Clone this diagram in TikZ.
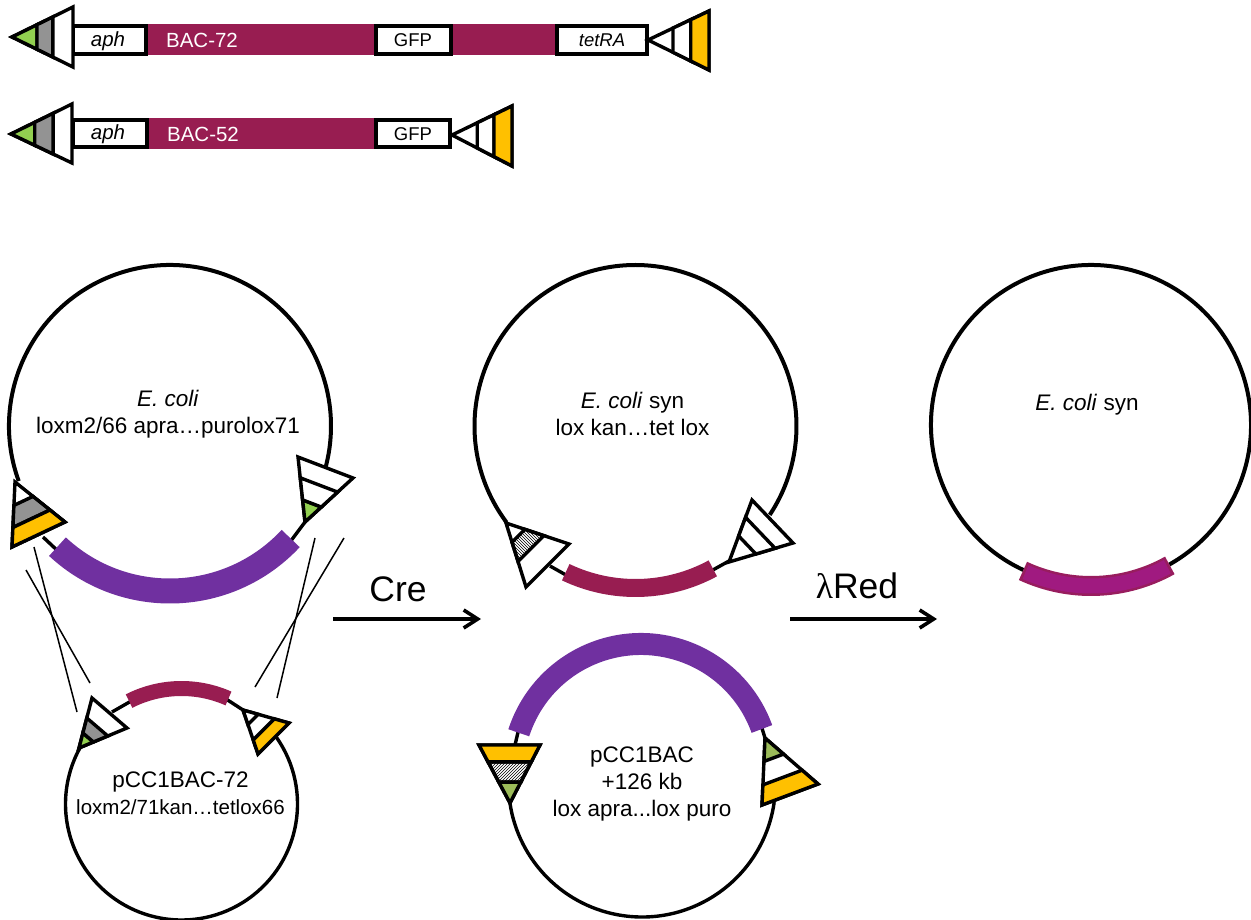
\documentclass[tikz,border=0pt]{standalone}
\usepackage{fontspec}
\setmainfont{Liberation Sans}
\newfontfamily\lambdafont{Liberation Serif}
\usetikzlibrary{arrows.meta,calc,patterns}
\definecolor{baccol}{HTML}{981D51}
\definecolor{apracol}{HTML}{7030A0}
\definecolor{synrim}{HTML}{981D5E}
\definecolor{syncol}{HTML}{A01A80}
\definecolor{limecol}{HTML}{92D050}
\definecolor{olivecol}{HTML}{9BBB59}
\definecolor{ambercol}{HTML}{FFC000}
\tikzset{
  lox/.style={draw=black,line width=3.4pt,line join=miter},
  ring/.style={draw=black,line width=4pt},
  smallring/.style={draw=black,line width=3.4pt},
  genebox/.style={draw=black,fill=white,line width=3.2pt},
  swap/.style={draw=black,line width=1.5pt},
  step arrow/.style={draw=black,line width=3.6pt,-{Straight Barb[length=14pt,width=18pt]}},
  label/.style={inner sep=0pt,align=center,font=\fontsize{22.5}{27}\selectfont},
}
\newcommand{\loxtri}[3]{
  \coordinate (la) at (#1);
  \coordinate (lb) at (#2);
  \coordinate (lc) at (#3);
  \draw[lox,fill=white] (la) -- (lb) -- (lc) -- cycle;
}
\newcommand{\loxband}[3]{
  \draw[lox,#1] ($(la)!#2!(lb)$) -- ($(la)!#3!(lb)$) -- ($(la)!#3!(lc)$) -- ($(la)!#2!(lc)$) -- cycle;
}
\begin{document}
\begin{tikzpicture}[x=1pt,y=1pt,yscale=-1]
  \useasboundingbox (0,0) rectangle (1251,920);

  % BAC-72 cassette
  \fill[baccol] (146,24) rectangle (557,55);
  \draw[genebox] (73,26) rectangle (146,54);
  \draw[genebox] (376,26) rectangle (451,54);
  \draw[genebox] (557,26) rectangle (647,54);
  \node[label,font=\fontsize{20.5}{24}\selectfont\itshape] (apha) at (108,41) {aph};
  \node[label,font=\fontsize{20.5}{24}\selectfont,text=white] (baca) at (202,40) {BAC-72};
  \node[label,font=\fontsize{18.5}{22}\selectfont] (gfpa) at (413,40) {GFP};
  \node[label,font=\fontsize{18.5}{22}\selectfont\itshape] (tet) at (602,40) {tetRA};
  \loxtri{12,37}{73,7}{73,67}
  \loxband{fill=limecol}{0}{.41}
  \loxband{fill=gray!85}{.41}{.67}
  \loxtri{648,40}{709,11}{709,70}
  \loxband{fill=white}{.41}{.70}
  \loxband{fill=ambercol}{.70}{1}

  % BAC-52 cassette
  \fill[baccol] (147,118) rectangle (376,149);
  \draw[genebox] (73,120) rectangle (147,147);
  \draw[genebox] (376,120) rectangle (450,147);
  \node[label,font=\fontsize{20.5}{24}\selectfont\itshape] (aphb) at (108,134) {aph};
  \node[label,font=\fontsize{20.5}{24}\selectfont,text=white] (bacb) at (203,134) {BAC-52};
  \node[label,font=\fontsize{18.5}{22}\selectfont] (gfpb) at (413,134) {GFP};
  \loxtri{11,134}{72,104}{72,163}
  \loxband{fill=limecol}{0}{.39}
  \loxband{fill=gray!85}{.39}{.69}
  \loxtri{452,135}{512,106}{512,166}
  \loxband{fill=white}{.42}{.70}
  \loxband{fill=ambercol}{.70}{1}

  % E. coli, left
  \draw[ring] (170,426) ++(160:161) arc[start angle=160,end angle=375,radius=161];
  \draw[smallring] (43,537) -- (60,553);
  \draw[smallring] (305,522) -- (290,542);
  \draw[apracol,line width=25pt] (170,426) ++(43:165) arc[start angle=43,end angle=133,radius=165];
  \loxtri{15,482}{65,522}{12,547}
  \loxband{fill=gray!85}{.36}{.70}
  \loxband{fill=ambercol}{.70}{1}
  \loxtri{305,522}{298,457}{353,478}
  \loxband{fill=limecol}{0}{.34}
  \loxband{fill=white}{.34}{.68}
  \node[label] (ecolia) at (168,414) {\textit{E. coli}\\loxm2/66 apra…purolox71};

  % crossover lines
  \draw[swap] (34,547) -- (77,712);
  \draw[swap] (26,570) -- (90,683);
  \draw[swap] (315,538) -- (277,698);
  \draw[swap] (344,538) -- (255,687);

  % pCC1BAC-72
  \draw[smallring] (181.5,804) ++(-35:116) arc[start angle=-35,end angle=209,radius=116];
  \draw[smallring] (112,712) -- (133,700);
  \draw[smallring] (243,710) -- (223,697);
  \draw[baccol,line width=15pt] (181.5,804) ++(243:115.5) arc[start angle=243,end angle=294,radius=115.5];
  \loxtri{79,748}{92,698}{127,728}
  \loxband{fill=limecol}{0}{.30}
  \loxband{fill=gray!85}{.30}{.60}
  \loxtri{243,710}{289,723}{258,754}
  \loxband{fill=white}{0}{.33}
  \loxband{fill=ambercol}{.68}{1}
  \node[label] (pcca) at (180.5,793.5) {\fontsize{22.5}{27}\selectfont pCC1BAC-72\\\fontsize{20.5}{27}\selectfont loxm2/71kan…tetlox66};

  % Cre step
  \coordinate (crea) at (333,619);
  \coordinate (creb) at (481,619);
  \draw[step arrow] (crea) -- (creb);
  \node[label,font=\fontsize{35.5}{40}\selectfont] (cre) at (398,589) {Cre};

  % E. coli syn, middle
  \draw[ring] (635.5,426) ++(143.2:161) arc[start angle=143.2,end angle=393.5,radius=161];
  \draw[smallring] (550,566) -- (566,575);
  \draw[smallring] (729,561) -- (711,571);
  \draw[baccol,line width=18pt] (635.5,426) ++(61.5:162) arc[start angle=61.5,end angle=115.5,radius=162];
  \loxtri{506,523}{569,544}{526,587}
  \loxband{pattern=north west lines}{.30}{.60}
  \loxtri{729,562}{752,500}{793,543}
  \loxband{fill=white}{.42}{.72}
  \node[label] (ecolib) at (632.5,414) {\textit{E. coli} syn\\lox kan…tet lox};

  % pCC1BAC, middle
  \draw[smallring] (642,783.5) ++(8:133.5) arc[start angle=8,end angle=171.6,radius=133.5];
  \draw[smallring] (519,728) -- (515,745);
  \draw[smallring] (761,725) -- (765,738);
  \draw[apracol,line width=22pt] (641,772.5) ++(198:128.5) arc[start angle=198,end angle=340.2,radius=128.5];
  \loxtri{510,803}{479,745}{540,745}
  \loxband{fill=olivecol}{0}{.36}
  \loxband{pattern=north east lines}{.36}{.71}
  \loxband{fill=ambercol}{.71}{1}
  \loxtri{765,738}{818,784}{762,805}
  \loxband{fill=olivecol}{0}{.35}
  \loxband{fill=ambercol}{.70}{1}
  \node[label] (pccb) at (642,784) {pCC1BAC\\+126 kb\\lox apra...lox puro};

  % lambda Red step
  \coordinate (reda) at (790,619);
  \coordinate (redb) at (937,619);
  \draw[step arrow] (reda) -- (redb);
  \node[label,font=\fontsize{35.5}{40}\selectfont] (red) at (857,586) {{\lambdafont λ}Red};

  % E. coli syn, right
  \draw[ring] (1091,425) ++(115:160) arc[start angle=115,end angle=420.7,radius=160];
  \draw[synrim,line width=20pt] (1091,425) ++(60.7:161) arc[start angle=60.7,end angle=115,radius=161];
  \draw[syncol,line width=15pt] (1091,425) ++(61.7:161) arc[start angle=61.7,end angle=114,radius=161];
  \node[label] (ecolic) at (1087,405) {\textit{E. coli} syn};
\end{tikzpicture}
\end{document}
